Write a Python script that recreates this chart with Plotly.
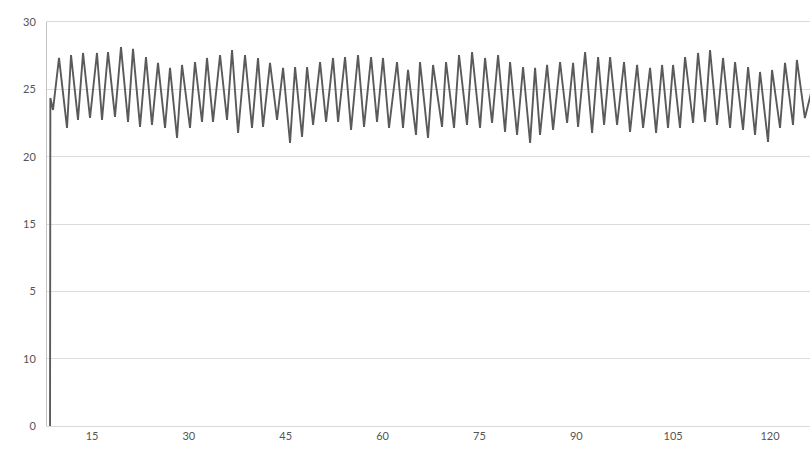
import plotly.graph_objects as go

# Sample times (axis units) and readings: the series starts from zero,
# then swings between successive highs and lows.
sample_time = [
    8.50, 8.55, 8.96,
    9.89, 11.13, 11.75, 12.83, 13.61, 14.69, 15.77, 16.55, 17.48, 18.56,
    19.49, 20.58, 21.35, 22.44, 23.36, 24.29, 25.22, 26.31, 27.08, 28.17,
    28.94, 30.18, 30.95, 32.04, 32.81, 33.74, 34.83, 35.91, 36.69, 37.62,
    38.70, 39.78, 40.71, 41.49, 42.57, 43.66, 44.59, 45.67, 46.45, 47.53,
    48.31, 49.24, 50.32, 51.25, 52.33, 53.11, 54.19, 55.12, 56.20, 57.13,
    58.22, 59.14, 60.07, 61.00, 62.24, 63.17, 63.94, 65.18, 65.80, 67.04,
    67.82, 69.21, 69.83, 71.07, 71.84, 73.08, 73.86, 75.10, 75.87, 76.96,
    77.89, 78.97, 79.75, 80.83, 81.76, 82.85, 83.62, 84.39, 85.48, 86.41,
    87.49, 88.58, 89.51, 90.28, 91.37, 92.45, 93.38, 94.31, 95.24, 96.32,
    97.40, 98.33, 99.42, 100.35, 101.43, 102.36, 103.29, 104.21, 104.99, 106.07,
    106.85, 108.09, 108.86, 109.94, 110.72, 111.80, 112.73, 113.82, 114.59, 115.83,
    116.61, 117.69, 118.46, 119.70, 120.32, 121.56, 122.33, 123.57, 124.17, 125.41,
    126.50,
]

reading = [
    0.0, 24.36, 23.47,
    27.33, 22.13, 27.55, 22.73, 27.70, 22.87, 27.70, 22.73, 27.77, 22.95,
    28.14, 22.58, 28.00, 22.21, 27.40, 22.36, 26.96, 22.13, 26.59, 21.39,
    26.81, 22.13, 27.03, 22.58, 27.33, 22.58, 27.55, 22.73, 27.92, 21.76,
    27.55, 22.13, 27.33, 22.21, 26.96, 22.73, 26.59, 21.02, 26.66, 21.47,
    26.66, 22.36, 27.03, 22.58, 27.33, 22.58, 27.40, 21.99, 27.55, 22.21,
    27.40, 22.58, 27.33, 22.13, 27.03, 22.13, 26.44, 21.61, 27.03, 21.39,
    26.81, 22.21, 27.03, 22.13, 27.55, 22.36, 27.77, 22.13, 27.33, 22.50,
    27.55, 21.84, 27.03, 21.61, 26.66, 21.02, 26.59, 21.61, 26.81, 21.99,
    27.03, 22.50, 26.96, 22.21, 27.77, 21.76, 27.40, 22.36, 27.40, 22.36,
    27.03, 21.84, 26.81, 22.13, 26.59, 21.76, 26.81, 22.13, 26.81, 22.13,
    27.40, 22.50, 27.70, 22.58, 27.92, 22.36, 27.33, 22.13, 27.03, 21.99,
    26.66, 21.61, 26.29, 21.10, 26.44, 22.13, 26.96, 22.36, 27.18, 22.87,
    25.00,
]

y_tick_values = [0, 5, 10, 15, 20, 25, 30]
y_tick_labels = ["0", "10", "5", "15", "20", "25", "30"]
x_tick_values = [15, 30, 45, 60, 75, 90, 105, 120]

fig = go.Figure()
fig.add_trace(go.Scatter(
    x=sample_time,
    y=reading,
    mode="lines",
    line=dict(color="#5a5a5a", width=1.9),
    showlegend=False,
    hoverinfo="skip",
))

axis_font = dict(family="Lato, 'Open Sans', sans-serif", size=11, color="#555555")

fig.update_layout(
    width=810,
    height=451,
    margin=dict(l=47, r=0, t=22, b=25),
    paper_bgcolor="white",
    plot_bgcolor="white",
    xaxis=dict(
        range=[8.03, 126.2],
        tickmode="array",
        tickvals=x_tick_values,
        ticktext=[str(v) for v in x_tick_values],
        showgrid=False,
        zeroline=False,
        showline=True,
        mirror=True,
        linecolor="#dadada",
        linewidth=1,
        ticks="",
        tickfont=axis_font,
    ),
    yaxis=dict(
        range=[0, 30],
        tickmode="array",
        tickvals=y_tick_values,
        ticktext=y_tick_labels,
        showgrid=True,
        gridcolor="#dcdcdc",
        gridwidth=1,
        zeroline=False,
        showline=True,
        linecolor="#c4c4c4",
        linewidth=1,
        ticks="",
        ticklabelstandoff=8,
        tickfont=axis_font,
    ),
)

fig.write_html("out.html")
